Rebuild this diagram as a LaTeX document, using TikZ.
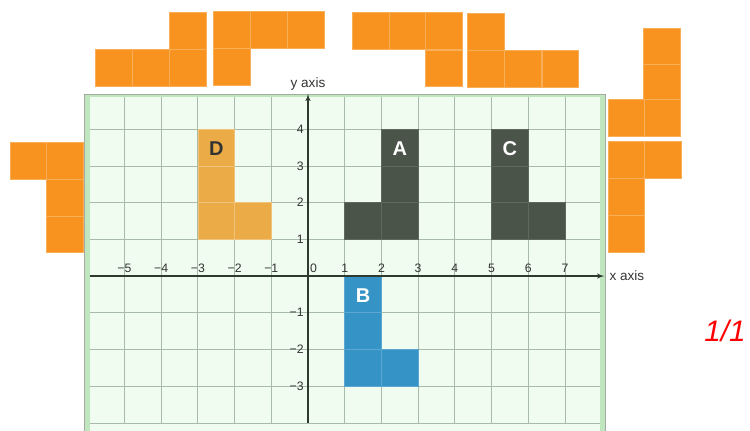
\documentclass[tikz,border=0pt]{standalone}
\usepackage{fontspec}
\setsansfont{Liberation Sans}
\usepackage{tikz}
\usetikzlibrary{arrows}
\usetikzlibrary{positioning}

\definecolor{gridbg}{HTML}{F0FCF0}
\definecolor{gridln}{HTML}{A8BAA8}
\definecolor{bandgreen}{HTML}{BFE6BF}
\definecolor{framegray}{HTML}{A3ABA3}
\definecolor{axisc}{HTML}{2E3A2E}
\definecolor{tickc}{HTML}{333333}
\definecolor{pieceorange}{HTML}{F7931E}
\definecolor{seamorange}{HTML}{F9AE5A}
\definecolor{dorange}{HTML}{EBAB47}
\definecolor{dseam}{HTML}{F0C27A}
\definecolor{darkgreen}{HTML}{4A5448}
\definecolor{darkseam}{HTML}{5E685C}
\definecolor{bblue}{HTML}{3593C5}
\definecolor{bseam}{HTML}{5AA8D2}

\begin{document}
\begin{tikzpicture}[>=latex',thick]
\tikzstyle{every node}=[font=\sffamily\fontsize{9.5}{10}\selectfont,text=tickc,inner sep=1.5pt]
\tikzstyle{piece}=[fill=pieceorange,draw=seamorange,line width=0.5pt]
\tikzstyle{lshape}=[line width=0.5pt]
\tikzstyle{letter}=[font=\sffamily\bfseries\fontsize{15.5}{15.5}\selectfont]
\useasboundingbox (-8.39,-4.2) rectangle (12.04,7.52);

% the board
\fill[gridbg] (-6.08,-4.3) rectangle (8.09,4.96);
\foreach \x in {-5,...,7} \draw[gridln,line width=0.6pt] (\x,-4) -- (\x,4.9);
\foreach \y in {-4,...,4} \draw[gridln,line width=0.6pt] (-5.96,\y) -- (7.96,\y);
\fill[bandgreen] (-6.08,-4.3) rectangle (-5.95,4.96);
\fill[bandgreen] (7.96,-4.3) rectangle (8.09,4.96);
\fill[bandgreen] (-6.08,4.88) rectangle (8.09,4.96);
\draw[framegray,line width=0.5pt] (-6.08,-4.3) -- (-6.08,4.96) -- (8.09,4.96) -- (8.09,-4.3);

% loose pieces
\foreach \px/\py in {-5.78/5.18,-4.78/5.18,-3.78/5.18,-3.78/6.18,
  -2.58/6.2,-1.57/6.2,-0.56/6.2,-2.58/5.2,
  1.21/6.18,2.21/6.18,3.2/6.18,3.2/5.16,
  4.35/6.16,4.35/5.14,5.36/5.14,6.37/5.14,
  9.14/5.75,9.14/4.77,9.14/3.81,8.17/3.81,
  8.17/2.66,9.17/2.66,8.17/1.66,8.17/0.66,
  -8.12/2.64,-7.12/2.64,-7.12/1.64,-7.12/0.64}
  \draw[piece] (\px,\py) rectangle ++(1,1);

% placed pieces
\foreach \px/\py in {-3/3,-3/2,-3/1,-2/1}
  \draw[lshape,fill=dorange,draw=dseam] (\px,\py) rectangle ++(1,1);
\foreach \px/\py in {2/3,2/2,2/1,1/1,5/3,5/2,5/1,6/1}
  \draw[lshape,fill=darkgreen,draw=darkseam] (\px,\py) rectangle ++(1,1);
\foreach \px/\py in {1/-1,1/-2,1/-3,2/-3}
  \draw[lshape,fill=bblue,draw=bseam] (\px,\py) rectangle ++(1,1);

\path node[letter,text=tickc] (lD) at (-2.5,3.47) {D};
\path node[letter,text=white] (lA) at (2.5,3.47) {A};
\path node[letter,text=white] (lC) at (5.5,3.47) {C};
\path node[letter,text=white] (lB) at (1.5,-0.53) {B};

% axes
\coordinate (xl) at (-5.95,0);
\coordinate (xr) at (8.07,0);
\coordinate (yb) at (0,-4);
\coordinate (yt) at (0,4.96);
\draw[->,axisc,line width=0.9pt] (xl) -- (xr);
\draw[->,axisc,line width=0.9pt] (yb) -- (yt);
\path node[right=0.08cm of xr,font=\sffamily\fontsize{10.5}{10.5}\selectfont] (xlab) {x axis};
\path node[above=0.02cm of yt,font=\sffamily\fontsize{10.5}{10.5}\selectfont] (ylab) {y axis};

% tick labels
\foreach \x in {-5,...,-1} {
  \pgfmathtruncatemacro\ax{-\x}
  \path node[anchor=south] (xt\ax) at (\x,0.04) {−\ax};
}
\foreach \x in {1,...,7}
  \path node[anchor=south] (xp\x) at (\x,0.04) {\x};
\path node[anchor=south] (xo) at (0.15,0.04) {0};
\foreach \y in {1,...,4}
  \path node[anchor=east] (yp\y) at (-0.05,\y) {\y};
\foreach \y in {-3,...,-1} {
  \pgfmathtruncatemacro\ay{-\y}
  \path node[anchor=east] (yn\ay) at (-0.05,\y) {−\ay};
}

\path node[text=red,font=\sffamily\itshape\fontsize{23}{23}\selectfont] (score) at (11.36,-1.5) {1/1};
\end{tikzpicture}
\end{document}
